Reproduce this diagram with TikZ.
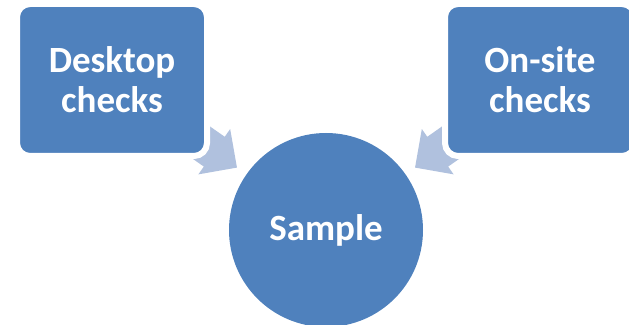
\documentclass[tikz,border=0pt]{standalone}
\usepackage{fontspec}
\setmainfont{Carlito}
\usetikzlibrary{shapes.arrows,backgrounds}
\definecolor{boxblue}{HTML}{4F81BD}
\definecolor{arrowblue}{HTML}{B0C1DE}
\tikzset{%
  checkbox/.style   = {shape=rectangle, rounded corners=13pt,%
                       draw=white, line width=6pt, fill=boxblue,%
                       minimum width=190pt, minimum height=152pt,%
                       align=center, text=white},%
  samplenode/.style = {circle, fill=boxblue, minimum size=194pt,%
                       text=white},%
  feedarrow/.style  = {single arrow, fill=arrowblue,%
                       inner xsep=0pt, inner ysep=18pt,%
                       minimum height=80pt,%
                       single arrow head extend=9.5pt}%
}

\begin{document}
\begin{tikzpicture}[x=1pt, y=1pt,
	every node/.style={font=\bfseries\fontsize{37}{40}\selectfont}]
	\useasboundingbox (0,0) rectangle (629,324);
	\node[checkbox] (desktop) at (112,244) {Desktop\\checks};
	\node[checkbox] (onsite) at (540,244) {On-site\\checks};
	\node[samplenode] (sample) at (326,94) {Sample};
	% arrows sit behind the boxes
	\begin{scope}[on background layer]
		\path (desktop.center) -- (sample.center)
			node[feedarrow, sloped, allow upside down,
			anchor=tip, pos=0.585] (deskarrow) {};
		\path (onsite.center) -- (sample.center)
			node[feedarrow, sloped, allow upside down,
			anchor=tip, pos=0.585] (sitearrow) {};
	\end{scope}
\end{tikzpicture}
\end{document}
